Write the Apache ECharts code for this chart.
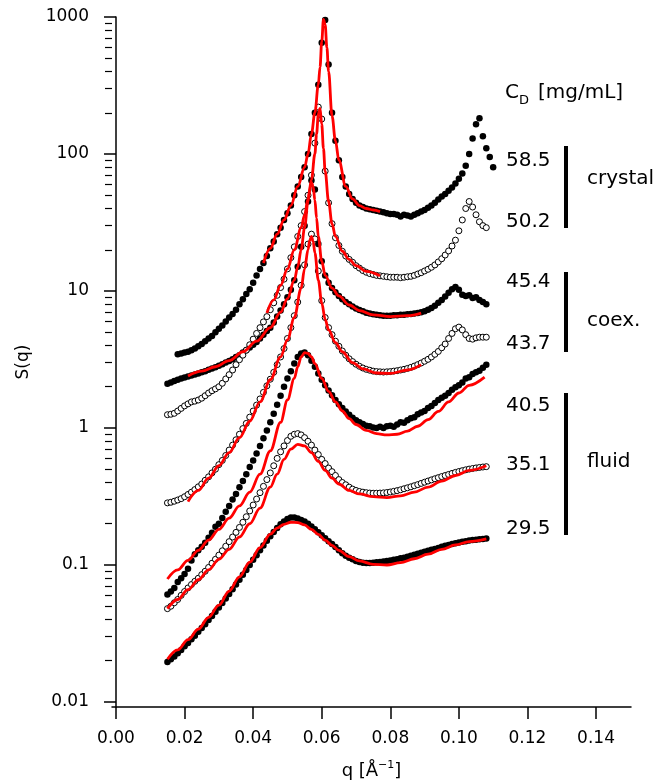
<!DOCTYPE html>
<html>
<head>
<meta charset="utf-8">
<script src="https://cdn.jsdelivr.net/npm/echarts@6/dist/echarts.min.js"></script>
<style>
html,body{margin:0;padding:0;background:#fff}
#chart{width:662px;height:780px}
</style>
</head>
<body>
<div id="chart"></div>
<script>
// q grid [1/A], shared by all measured curves
const q = [
  0.015,0.016,0.017,0.018,0.019,0.020,0.021,0.022,0.023,0.024,
  0.025,0.026,0.027,0.028,0.029,0.030,0.031,0.032,0.033,0.034,
  0.035,0.036,0.037,0.038,0.039,0.040,0.041,0.042,0.043,0.044,
  0.045,0.046,0.047,0.048,0.049,0.050,0.051,0.052,0.053,0.054,
  0.055,0.056,0.057,0.058,0.059,0.060,0.061,0.062,0.063,0.064,
  0.065,0.066,0.067,0.068,0.069,0.070,0.071,0.072,0.073,0.074,
  0.075,0.076,0.077,0.078,0.079,0.080,0.081,0.082,0.083,0.084,
  0.085,0.086,0.087,0.088,0.089,0.090,0.091,0.092,0.093,0.094,
  0.095,0.096,0.097,0.098,0.099,0.100,0.101,0.102,0.103,0.104,
  0.105,0.106,0.107,0.108,0.109,0.110
]

// measured S(q), one array per concentration (mg/mL)
const s585 = [
  null,null,null,3.45,3.5,3.55,3.6,3.7,3.8,3.95,
  4.1,4.3,4.5,4.7,5.0,5.3,5.6,6.0,6.4,6.8,
  7.3,8.0,8.7,9.5,10.3,11.5,13,14.5,16,18,
  20.5,23,26,29,33,37,42,50,58,68,
  80,100,140,200,320,650,950,450,200,125,
  90,68,58,51,47,44,42,41,40,39.5,
  39,38.5,38,37.5,37,36.5,36.5,36,35,36,
  35.5,35,36,37,38,39,40.5,42,44,46.5,
  49,51,54,57,61,66,72,82,100,130,
  165,182,135,110,95,80
]
const s502 = [
  1.25,1.26,1.28,1.33,1.39,1.45,1.5,1.55,1.57,1.6,
  1.65,1.72,1.8,1.87,1.93,2.0,2.12,2.28,2.45,2.65,
  2.9,3.15,3.4,3.7,4.05,4.45,4.9,5.4,5.95,6.5,
  7.3,8.2,9.3,10.6,12.2,14.5,17.5,21,25,30,
  38,50,70,120,220,180,75,44,31,24.5,
  21.5,19.5,18,17,16.2,15.3,14.7,14.1,13.7,13.4,
  13.2,13.0,12.9,12.8,12.7,12.6,12.6,12.6,12.5,12.6,
  12.7,12.8,13.0,13.3,13.6,14.0,14.4,14.9,15.5,16.3,
  17.2,18.3,19.6,21.3,23.5,27.5,33,40,45,41,
  36,32,30,29,null,null
]
const s454 = [
  2.1,2.15,2.2,2.25,2.3,2.34,2.38,2.42,2.46,2.5,
  2.55,2.6,2.66,2.72,2.78,2.85,2.92,3.0,3.08,3.18,
  3.3,3.4,3.55,3.7,3.87,4.05,4.25,4.5,4.8,5.1,
  5.4,5.9,6.5,7.2,8.0,9.0,10.2,12,15,21,
  30,45,64,55,22,16.5,13,11.5,10.5,9.8,
  9.2,8.7,8.3,8.0,7.7,7.45,7.25,7.1,6.95,6.85,
  6.75,6.7,6.65,6.6,6.6,6.6,6.65,6.65,6.7,6.7,
  6.75,6.8,6.85,6.9,7.0,7.1,7.3,7.5,7.8,8.2,
  8.6,9.1,9.7,10.3,10.7,10.2,9.4,9.2,9.3,8.9,
  9.0,8.6,8.3,8.0,null,null
]
const s437 = [
  0.284,0.287,0.292,0.298,0.305,0.315,0.327,0.34,0.355,0.372,
  0.39,0.415,0.44,0.47,0.5,0.54,0.58,0.63,0.69,0.75,
  0.82,0.9,0.99,1.08,1.2,1.33,1.47,1.63,1.82,2.03,
  2.27,2.55,2.9,3.3,3.8,4.5,5.4,6.6,8.3,11,
  15.5,22,26,24,14,8.5,6.4,5.4,4.8,4.3,
  3.95,3.65,3.4,3.2,3.05,2.92,2.82,2.74,2.68,2.64,
  2.6,2.58,2.57,2.56,2.57,2.58,2.6,2.62,2.65,2.68,
  2.72,2.77,2.83,2.9,2.98,3.07,3.17,3.3,3.45,3.62,
  3.85,4.1,4.5,4.9,5.3,5.45,5.2,4.8,4.5,4.45,
  4.55,4.6,4.6,4.6,null,null
]
const s405 = [
  0.061,0.064,0.068,0.075,0.08,0.086,0.094,0.108,0.12,0.128,
  0.136,0.145,0.158,0.172,0.19,0.2,0.22,0.245,0.27,0.3,
  0.33,0.37,0.41,0.46,0.52,0.58,0.65,0.74,0.84,0.96,
  1.1,1.27,1.48,1.72,2.0,2.3,2.6,2.95,3.3,3.5,
  3.55,3.4,3.1,2.8,2.5,2.25,2.05,1.88,1.73,1.6,
  1.49,1.4,1.32,1.25,1.19,1.14,1.1,1.07,1.04,1.03,
  1.01,1.0,1.02,1.0,1.03,1.04,1.02,1.06,1.1,1.09,
  1.14,1.18,1.2,1.26,1.3,1.33,1.4,1.45,1.52,1.6,
  1.66,1.72,1.8,1.9,1.98,2.05,2.15,2.3,2.35,2.48,
  2.55,2.62,2.75,2.9,null,null
]
const s351 = [
  0.048,0.05,0.053,0.056,0.06,0.064,0.068,0.072,0.076,0.08,
  0.085,0.09,0.096,0.103,0.11,0.118,0.127,0.137,0.148,0.16,
  0.173,0.188,0.205,0.225,0.248,0.274,0.303,0.337,0.375,0.42,
  0.47,0.53,0.6,0.67,0.74,0.81,0.87,0.9,0.91,0.89,
  0.85,0.8,0.75,0.69,0.64,0.59,0.55,0.51,0.48,0.45,
  0.42,0.4,0.385,0.37,0.358,0.35,0.344,0.34,0.337,0.335,
  0.334,0.334,0.335,0.336,0.338,0.341,0.345,0.349,0.354,0.36,
  0.366,0.372,0.379,0.386,0.394,0.402,0.41,0.418,0.426,0.434,
  0.442,0.45,0.458,0.466,0.474,0.481,0.488,0.495,0.501,0.506,
  0.511,0.515,0.519,0.522,null,null
]
const s295 = [
  0.0196,0.0205,0.0215,0.0227,0.024,0.0255,0.027,0.0287,0.0305,0.0325,
  0.0347,0.037,0.0396,0.0424,0.0455,0.049,0.0527,0.057,0.0615,0.0665,
  0.072,0.078,0.085,0.092,0.1,0.109,0.118,0.128,0.139,0.15,
  0.162,0.174,0.186,0.198,0.208,0.217,0.222,0.222,0.218,0.213,
  0.208,0.2,0.191,0.182,0.173,0.165,0.157,0.149,0.142,0.135,
  0.128,0.122,0.117,0.113,0.11,0.107,0.105,0.104,0.1035,0.1035,
  0.104,0.1045,0.105,0.106,0.107,0.108,0.109,0.11,0.112,0.113,
  0.115,0.117,0.119,0.121,0.123,0.125,0.127,0.129,0.131,0.133,
  0.136,0.138,0.14,0.142,0.144,0.146,0.148,0.149,0.151,0.152,
  0.153,0.154,0.155,0.156,null,null
]

// model fits (red lines)
const fitQ585 = [0.043,0.045,0.047,0.049,0.051,0.053,0.055,0.056,0.057,0.058,0.059,0.0595,0.060,0.0605,0.061,0.0615,0.062,0.063,0.064,0.065,0.067,0.069,0.071,0.073,0.075,0.077]
const fit585 = [16,20.5,26,33,42,58,80,100,140,200,320,430,660,960,880,600,400,190,125,90,58,47,42,40,39,38]
const fitQ502 = [0.044,0.046,0.048,0.050,0.052,0.054,0.055,0.056,0.057,0.058,0.0585,0.059,0.0595,0.060,0.0605,0.061,0.062,0.063,0.064,0.066,0.068,0.070,0.073,0.077]
const fit502 = [6.9,8.6,11,14.5,20,29,36,47,65,100,140,195,215,165,110,75,45,31,25,19.5,17,15.3,13.9,12.9]
const fitQ454 = [0.021,0.025,0.029,0.033,0.037,0.041,0.045,0.048,0.050,0.052,0.053,0.054,0.055,0.056,0.0565,0.057,0.0575,0.058,0.0585,0.059,0.060,0.061,0.063,0.065,0.068,0.071,0.075,0.080,0.085,0.089]
const fit454 = [2.4,2.6,2.8,3.1,3.6,4.3,5.4,7.0,8.8,12,15,20,29,45,55,62,58,46,34,25,16.5,13,10.5,9.2,7.9,7.2,6.7,6.5,6.6,6.9]
const fitQ437 = [0.021,0.024,0.027,0.030,0.033,0.036,0.039,0.042,0.045,0.048,0.050,0.052,0.054,0.055,0.056,0.0565,0.057,0.0575,0.058,0.059,0.060,0.061,0.062,0.064,0.066,0.069,0.072,0.076,0.080,0.085,0.089]
const fit437 = [0.29,0.35,0.43,0.53,0.66,0.85,1.12,1.55,2.25,3.3,4.4,6.4,10.5,14.5,20,23.5,25,23,19,12,8.2,6.2,5.2,4.2,3.6,3.0,2.7,2.52,2.5,2.65,2.9]
const fitQ405 = [0.015,0.018,0.021,0.024,0.027,0.030,0.033,0.036,0.039,0.042,0.045,0.048,0.050,0.052,0.053,0.054,0.055,0.056,0.057,0.058,0.060,0.062,0.064,0.066,0.068,0.070,0.073,0.076,0.079,0.082,0.085,0.088,0.091,0.094,0.097,0.100,0.103,0.1075]
const fit405 = [0.079,0.092,0.108,0.128,0.152,0.182,0.22,0.27,0.34,0.46,0.68,1.1,1.6,2.3,2.8,3.3,3.55,3.5,3.3,2.95,2.3,1.85,1.55,1.33,1.17,1.06,0.96,0.91,0.89,0.9,0.95,1.03,1.15,1.32,1.55,1.8,2.05,2.35]
const fitQ351 = [0.015,0.018,0.021,0.024,0.027,0.030,0.033,0.036,0.039,0.042,0.045,0.047,0.049,0.051,0.053,0.055,0.057,0.059,0.061,0.063,0.065,0.068,0.071,0.075,0.079,0.083,0.087,0.091,0.095,0.099,0.103,0.108]
const fit351 = [0.048,0.056,0.066,0.078,0.092,0.11,0.13,0.16,0.2,0.26,0.37,0.46,0.59,0.7,0.76,0.74,0.66,0.57,0.49,0.43,0.39,0.35,0.33,0.315,0.31,0.32,0.34,0.37,0.41,0.45,0.49,0.53]
const fitQ295 = [0.015,0.018,0.021,0.024,0.027,0.030,0.033,0.036,0.039,0.042,0.045,0.047,0.049,0.051,0.053,0.055,0.057,0.059,0.061,0.063,0.065,0.068,0.071,0.075,0.079,0.083,0.087,0.091,0.095,0.099,0.103,0.108]
const fit295 = [0.0205,0.024,0.0285,0.034,0.0415,0.051,0.0645,0.082,0.105,0.134,0.168,0.186,0.198,0.205,0.204,0.196,0.182,0.167,0.152,0.139,0.128,0.115,0.107,0.101,0.1,0.104,0.111,0.12,0.13,0.14,0.148,0.155]

// axis ticks
const xTicks = [0, 0.02, 0.04, 0.06, 0.08, 0.10, 0.12, 0.14]
const yTicks = [0.01, 0.1, 1, 10, 100, 1000]
const yTickLabels = ['0.01', '0.1', '1', '10', '100', '1000']
const yMinor = [0.02,0.03,0.04,0.05,0.06,0.07,0.08,0.09, 0.2,0.3,0.4,0.5,0.6,0.7,0.8,0.9,
  2,3,4,5,6,7,8,9, 20,30,40,50,60,70,80,90, 200,300,400,500,600,700,800,900]

const FONT = 'DejaVu Sans'

function dots(name, vals, open) {
    const data = []
    q.forEach((x, i) => { if (vals[i] != null) data.push([x, vals[i]]) })
    return {
        name: name,
        type: 'scatter',
        data: data,
        symbol: 'circle',
        symbolSize: open ? 6 : 6.5,
        itemStyle: open ? { color: '#fff', borderColor: '#000', borderWidth: 1, opacity: 1 } : { color: '#000', opacity: 1 },
        z: 2,
        silent: true
    }
}

function fit(name, qs, vals) {
    return {
        name: name + ' fit',
        type: 'line',
        data: qs.map((x, i) => [x, vals[i]]),
        showSymbol: false,
        smooth: 0.35,
        smoothMonotone: 'x',
        lineStyle: { color: '#ff0000', width: 2.8 },
        z: 3,
        silent: true
    }
}

function label(text, x, y, size) {
    return {
        type: 'text', x: x, y: y, silent: true,
        style: { text: text, font: (size || 20) + 'px "' + FONT + '"', fill: '#000', verticalAlign: 'middle', align: 'left' }
    }
}

const chart = echarts.init(document.getElementById('chart'))
chart.setOption({
    animation: false,
    backgroundColor: '#fff',
    textStyle: { fontFamily: FONT },
    grid: { left: 112, right: 31, top: 17, bottom: 73, containLabel: false, outerBoundsMode: 'none' },
    xAxis: {
        type: 'value',
        min: -0.00117,
        max: 0.1502,
        name: 'q [Å{sup|−1}]',
        nameLocation: 'middle',
        nameGap: 53,
        nameTextStyle: {
            color: '#000', fontSize: 18, fontFamily: FONT, lineHeight: 22,
            rich: { sup: { fontSize: 11, fontFamily: FONT, color: '#000', verticalAlign: 'top', lineHeight: 12 } }
        },
        splitLine: { show: false },
        axisLine: { onZero: false, lineStyle: { color: '#000', width: 1.5 } },
        axisTick: { customValues: xTicks, length: 12, lineStyle: { color: '#000', width: 1.5 } },
        axisLabel: {
            customValues: xTicks, margin: 23, color: '#000', fontSize: 17, fontFamily: FONT,
            formatter: v => v.toFixed(2)
        }
    },
    yAxis: [{
        type: 'log',
        min: 0.00919,
        max: 1000,
        name: 'S(q)',
        nameLocation: 'middle',
        nameGap: 80,
        nameRotate: 90,
        nameTextStyle: { color: '#000', fontSize: 17, fontFamily: FONT },
        splitLine: { show: false },
        axisLine: { lineStyle: { color: '#000', width: 1.5 } },
        axisTick: { customValues: yTicks, length: 12, lineStyle: { color: '#000', width: 1.5 } },
        axisLabel: {
            customValues: yTicks, margin: 23, color: '#000', fontSize: 17, fontFamily: FONT,
            formatter: v => {
                const i = yTicks.findIndex(t => Math.abs(Math.log10(v / t)) < 1e-6)
                return i >= 0 ? yTickLabels[i] : ''
            }
        }
    }, {
        type: 'log',
        min: 0.00919,
        max: 1000,
        position: 'left',
        splitLine: { show: false },
        axisLine: { show: false },
        axisTick: { customValues: yMinor, length: 7, lineStyle: { color: '#000', width: 1.2 } },
        axisLabel: { show: false }
    }],
    series: [
        dots('29.5', s295, false),
        dots('35.1', s351, true),
        dots('40.5', s405, false),
        dots('43.7', s437, true),
        dots('45.4', s454, false),
        dots('50.2', s502, true),
        dots('58.5', s585, false),
        fit('29.5', fitQ295, fit295),
        fit('35.1', fitQ351, fit351),
        fit('40.5', fitQ405, fit405),
        fit('43.7', fitQ437, fit437),
        fit('45.4', fitQ454, fit454),
        fit('50.2', fitQ502, fit502),
        fit('58.5', fitQ585, fit585)
    ],
    graphic: [
        label('C', 505, 93),
        label('D', 519, 101, 13),
        label('[mg/mL]', 538, 93),
        label('58.5', 506, 161),
        label('50.2', 506, 222),
        label('45.4', 506, 282),
        label('43.7', 506, 344),
        label('40.5', 506, 406),
        label('35.1', 506, 465),
        label('29.5', 506, 529),
        { type: 'rect', silent: true, shape: { x: 564, y: 146, width: 4, height: 82 }, style: { fill: '#000' } },
        { type: 'rect', silent: true, shape: { x: 564, y: 272, width: 4, height: 80 }, style: { fill: '#000' } },
        { type: 'rect', silent: true, shape: { x: 564, y: 393, width: 4, height: 142 }, style: { fill: '#000' } },
        label('crystal', 587, 179),
        label('coex.', 587, 321),
        label('fluid', 587, 462)
    ]
})
</script>
</body>
</html>
